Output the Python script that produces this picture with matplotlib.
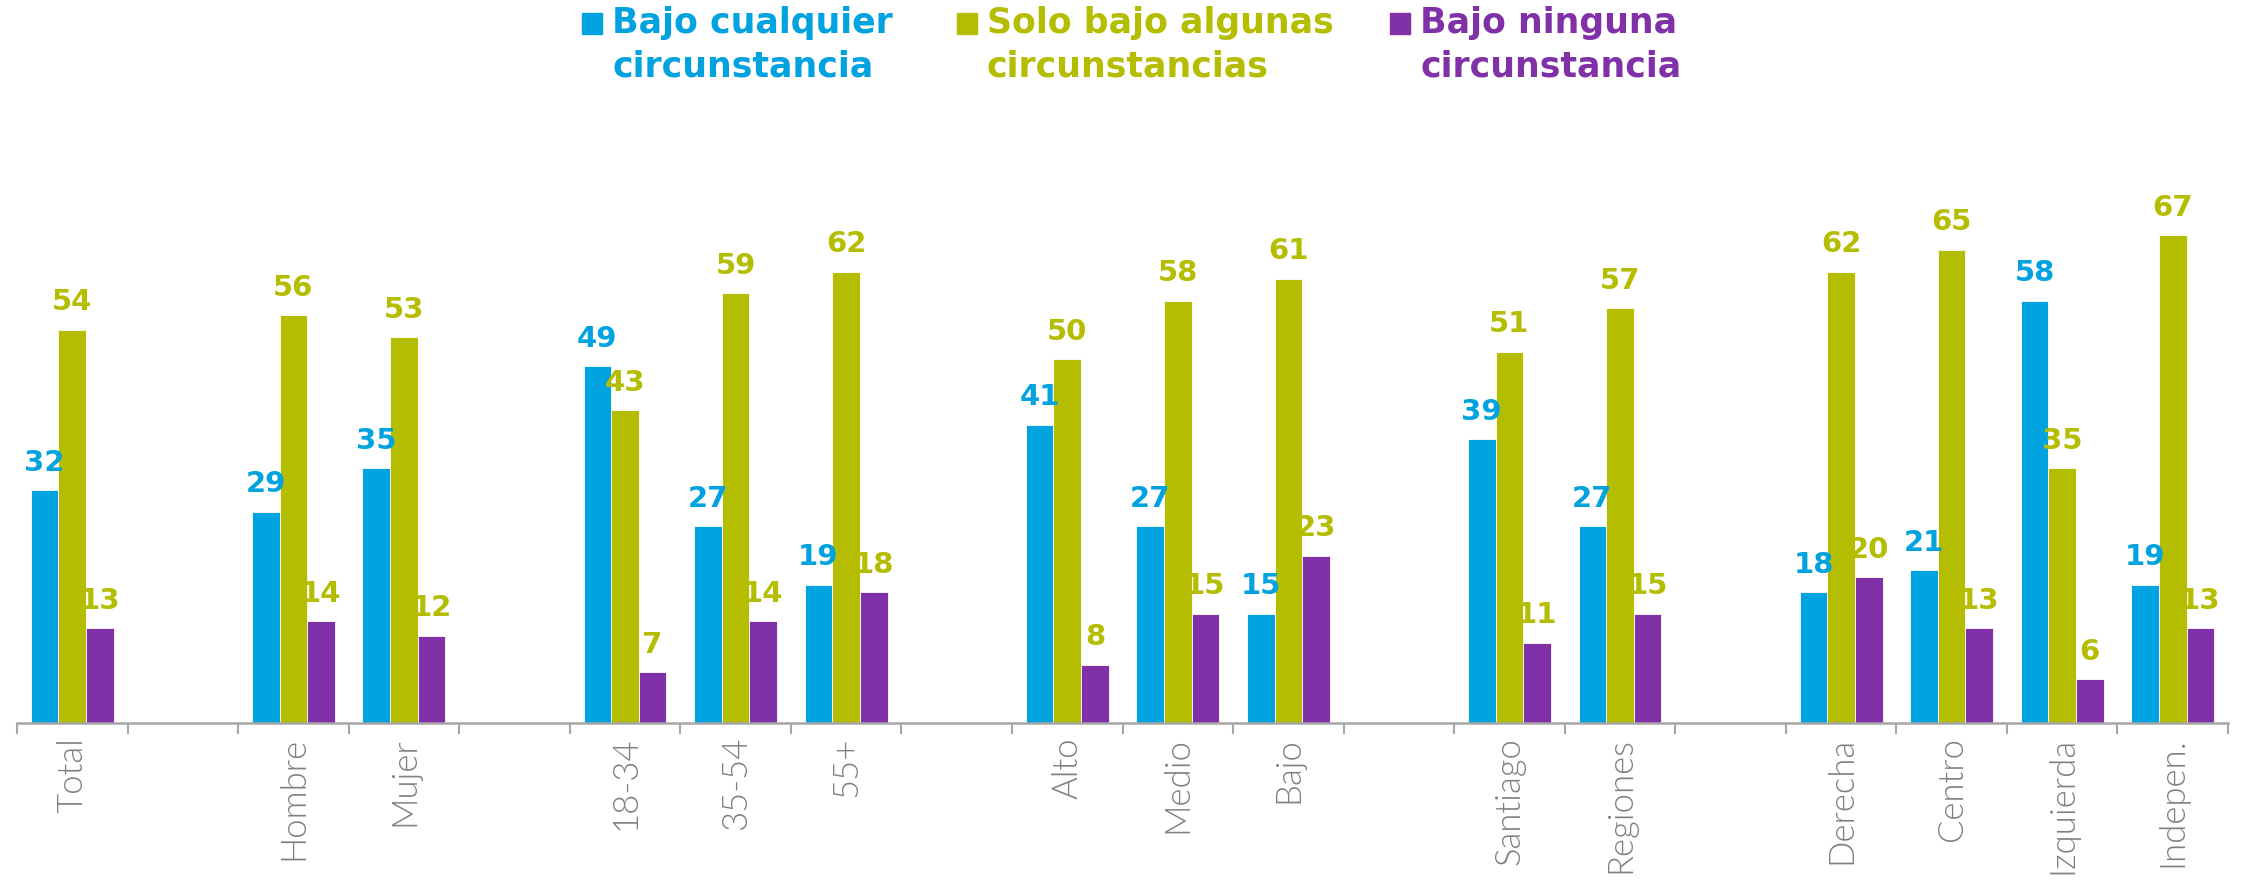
import numpy as np
import matplotlib
matplotlib.use("Agg")
import matplotlib.pyplot as plt
from matplotlib.patches import Rectangle

categories = ["Total", "", "Hombre", "Mujer", "", "18-34", "35-54", "55+", "",
              "Alto", "Medio", "Bajo", "", "Santiago", "Regiones", "",
              "Derecha", "Centro", "Izquierda", "Indepen."]
series_names = ["Bajo cualquier\ncircunstancia",
                "Solo bajo algunas\ncircunstancias",
                "Bajo ninguna\ncircunstancia"]
bajo_cualquier = [32, None, 29, 35, None, 49, 27, 19, None, 41, 27, 15, None, 39, 27, None, 18, 21, 58, 19]
solo_algunas = [54, None, 56, 53, None, 43, 59, 62, None, 50, 58, 61, None, 51, 57, None, 62, 65, 35, 67]
bajo_ninguna = [13, None, 14, 12, None, 7, 14, 18, None, 8, 15, 23, None, 11, 15, None, 20, 13, 6, 13]

BLUE = "#00A3E0"
GREEN = "#B5BD00"
PURPLE = "#8031A7"
series = [bajo_cualquier, solo_algunas, bajo_ninguna]
colors = [BLUE, GREEN, PURPLE]
label_colors = [BLUE, GREEN, GREEN]

W, H = 2242, 880
fig = plt.figure(figsize=(W / 100, H / 100), dpi=100)
ax = fig.add_axes([17 / W, 1 - 723 / H, (2228 - 17) / W, 546 / H])

bw = 0.25
offsets = [-bw, 0, bw]
for vals, col, lcol, off in zip(series, colors, label_colors, offsets):
    idx = [i for i, v in enumerate(vals) if v is not None]
    vv = [vals[i] for i in idx]
    xs = np.array(idx) + off
    ax.bar(xs, vv, width=bw, color=col, edgecolor="white", linewidth=0.6)
    for x, v in zip(xs, vv):
        ax.annotate(str(v), (x, v), xytext=(0, 14), textcoords="offset points",
                    ha="center", va="baseline", color=lcol, fontsize=21,
                    fontweight="bold", family=["DejaVu Sans"])

ax.set_xlim(-0.5, len(categories) - 0.5)
ax.set_ylim(0, 75)
ax.set_yticks([])
for s in ["top", "right", "left"]:
    ax.spines[s].set_visible(False)
ax.spines["bottom"].set_color("#A6A6A6")
ax.spines["bottom"].set_linewidth(1.8)

ax.set_xticks(np.arange(len(categories)))
ax.set_xticklabels(categories, rotation=90, color="#808080", fontsize=25,
                   family=["Lato", "DejaVu Sans"], fontweight=300)
ax.tick_params(axis="x", which="major", length=0, pad=10)
ax.set_xticks(np.arange(-0.5, len(categories)), minor=True)
ax.tick_params(axis="x", which="minor", length=8, width=1.5, color="#A6A6A6")

# legend (manual, squares aligned with first line)
leg_sq_x = [582, 957, 1390]
leg_txt_x = [612, 987, 1420]
for name, col, sx, tx in zip(series_names, colors, leg_sq_x, leg_txt_x):
    fig.patches.append(Rectangle((sx / W, 1 - 34 / H), 20 / W, 21 / H,
                                 transform=fig.transFigure, color=col))
    fig.text(tx / W, 1 - 6 / H, name, ha="left", va="top", color=col,
             fontsize=25, fontweight="bold", linespacing=1.34,
             family=["DejaVu Sans"])

fig.savefig("out.png", dpi=100)
